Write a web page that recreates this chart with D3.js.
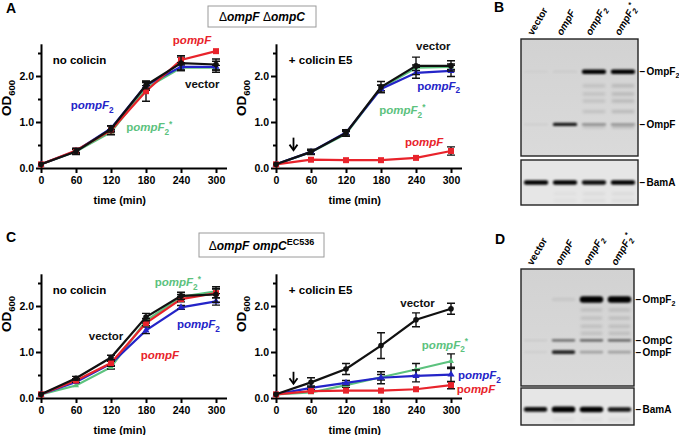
<!DOCTYPE html>
<html><head><meta charset="utf-8">
<script src="https://cdn.jsdelivr.net/npm/d3@7"></script>
<style>
body{margin:0;background:#fff}
svg{display:block}
text{font-family:"Liberation Sans",Arial,Helvetica,sans-serif}
</style>
</head><body>
<svg id="fig" width="679" height="435"></svg>
<script>
// ---------------- DATA ----------------
const times = [0, 60, 120, 180, 240, 300];
const xTicks = [0, 60, 120, 180, 240, 300];
const yTicks = [0, 1, 2];
const yMinorTicks = [0.5, 1.5, 2.5];
const seriesKeys = ["pompF2*", "pompF2", "pompF", "vector"];

// Panel A, ΔompF ΔompC, no colicin
const A_noCol_vector  = [0.08, 0.36, 0.85, 1.80, 2.28, 2.25];
const A_noCol_pompF   = [0.08, 0.38, 0.82, 1.67, 2.35, 2.54];
const A_noCol_pompF2  = [0.08, 0.37, 0.86, 1.80, 2.20, 2.20];
const A_noCol_pompF2s = [0.08, 0.36, 0.78, 1.74, 2.18, 2.18];
const A_noCol_vector_err  = [0.02, 0.07, 0.07, 0.08, 0.16, 0.12];
const A_noCol_pompF_err   = [0.02, 0.04, 0.10, 0.22, 0.06, 0.03];
const A_noCol_pompF2_err  = [0.02, 0.04, 0.06, 0.06, 0.07, 0.12];
const A_noCol_pompF2s_err = [0.02, 0.04, 0.05, 0.05, 0.06, 0.05];

// Panel A, + colicin E5
const A_col_vector  = [0.08, 0.35, 0.76, 1.76, 2.22, 2.22];
const A_col_pompF   = [0.08, 0.18, 0.17, 0.17, 0.22, 0.37];
const A_col_pompF2  = [0.08, 0.35, 0.77, 1.72, 2.07, 2.11];
const A_col_pompF2s = [0.08, 0.34, 0.74, 1.74, 2.18, 2.20];
const A_col_vector_err  = [0.02, 0.06, 0.07, 0.12, 0.19, 0.11];
const A_col_pompF_err   = [0.02, 0.03, 0.02, 0.02, 0.03, 0.09];
const A_col_pompF2_err  = [0.02, 0.04, 0.05, 0.08, 0.12, 0.12];
const A_col_pompF2s_err = [0.02, 0.04, 0.05, 0.06, 0.06, 0.06];

// Panel C, ΔompF ompC^EC536, no colicin
const C_noCol_vector  = [0.08, 0.43, 0.88, 1.76, 2.22, 2.25];
const C_noCol_pompF   = [0.08, 0.38, 0.76, 1.63, 2.15, 2.28];
const C_noCol_pompF2  = [0.08, 0.35, 0.75, 1.47, 1.97, 2.10];
const C_noCol_pompF2s = [0.08, 0.27, 0.67, 1.68, 2.20, 2.32];
const C_noCol_vector_err  = [0.02, 0.04, 0.05, 0.08, 0.08, 0.17];
const C_noCol_pompF_err   = [0.02, 0.04, 0.07, 0.06, 0.06, 0.10];
const C_noCol_pompF2_err  = [0.02, 0.03, 0.05, 0.07, 0.04, 0.08];
const C_noCol_pompF2s_err = [0.02, 0.03, 0.04, 0.05, 0.05, 0.05];

// Panel C, + colicin E5
const C_col_vector  = [0.08, 0.34, 0.63, 1.14, 1.70, 1.94];
const C_col_pompF   = [0.08, 0.15, 0.16, 0.16, 0.19, 0.28];
const C_col_pompF2  = [0.08, 0.22, 0.33, 0.44, 0.48, 0.51];
const C_col_pompF2s = [0.08, 0.12, 0.28, 0.45, 0.62, 0.80];
const C_col_vector_err  = [0.02, 0.10, 0.12, 0.28, 0.15, 0.12];
const C_col_pompF_err   = [0.02, 0.03, 0.03, 0.03, 0.03, 0.08];
const C_col_pompF2_err  = [0.02, 0.04, 0.05, 0.13, 0.13, 0.16];
const C_col_pompF2s_err = [0.02, 0.03, 0.05, 0.06, 0.13, 0.16];

// Western blots
const laneNames = ["vector", "ompF", "ompF2", "ompF2*"];
const blotB_OmpF2 = [0.02, 0.04, 1.0, 1.0];
const blotB_OmpF  = [0.04, 0.9, 0.35, 0.3];
const blotB_ladder = [0.0, 0.0, 0.18, 0.25];
const blotB_BamA  = [1.0, 1.0, 0.95, 1.0];
const blotD_OmpF2 = [0.0, 0.05, 1.0, 1.0];
const blotD_OmpC  = [0.05, 0.55, 0.6, 0.6];
const blotD_OmpF  = [0.03, 0.85, 0.25, 0.25];
const blotD_ladder = [0.0, 0.0, 0.2, 0.22];
const blotD_BamA  = [0.95, 1.15, 1.1, 0.9];

// ---------------- DRAWING ----------------
const svg = d3.select("#fig");
svg.append("rect").attr("width", 679).attr("height", 435).attr("fill", "#fff");
const FONT = '"Liberation Sans",Arial,Helvetica,sans-serif';
const colors = {"vector": "#111111", "pompF": "#e8232b", "pompF2": "#2424c8", "pompF2*": "#5cc27e"};

const defs = svg.append("defs");
defs.append("filter").attr("id", "blur").attr("x", "-20%").attr("y", "-100%").attr("width", "140%").attr("height", "300%")
  .append("feGaussianBlur").attr("stdDeviation", 0.9);
defs.append("filter").attr("id", "blur2").attr("x", "-20%").attr("y", "-100%").attr("width", "140%").attr("height", "300%")
  .append("feGaussianBlur").attr("stdDeviation", 1.6);
const gr = defs.append("linearGradient").attr("id", "blotbg").attr("x1", 0).attr("y1", 0).attr("x2", 0).attr("y2", 1);
gr.append("stop").attr("offset", "0%").attr("stop-color", "#d2d2d2");
gr.append("stop").attr("offset", "100%").attr("stop-color", "#dadada");

function richLabel(g, x, y, parts, color, size) {
  const t = g.append("text").attr("x", x).attr("y", y).attr("fill", color)
    .attr("font-size", size).attr("font-weight", "bold").attr("font-family", FONT);
  parts.forEach(p => {
    const ts = t.append("tspan").text(p[0]);
    if (p[1] === "i") ts.attr("font-style", "italic");
    if (p[1] === "sub") ts.attr("font-size", size * 0.72).attr("dy", size * 0.3);
    if (p[1] === "supafter") ts.attr("font-size", size * 0.72).attr("dy", -size * 0.7);
  });
  return t;
}
const labelParts = {
  "vector": [["vector", "n"]],
  "pompF": [["p", "n"], ["ompF", "i"]],
  "pompF2": [["p", "n"], ["ompF", "i"], ["2", "sub"]],
  "pompF2*": [["p", "n"], ["ompF", "i"], ["2", "sub"], ["*", "supafter"]]
};

function lineChart(cfg) {
  const x = d3.scaleLinear().domain([0, 318]).range([cfg.x0, cfg.x0 + 35 * 318 / 60]);
  const y = d3.scaleLinear().domain([0, 2.7]).range([cfg.base, cfg.base - 46 * 2.7]);
  const g = svg.append("g");

  g.append("g").attr("transform", `translate(0,${cfg.base})`)
    .call(d3.axisBottom(x).tickValues(xTicks).tickSize(5).tickSizeOuter(0).tickPadding(4).tickFormat(d3.format("d")));
  g.append("g").attr("transform", `translate(${cfg.x0},0)`)
    .call(d3.axisLeft(y).tickValues(yTicks).tickSize(5).tickSizeOuter(0).tickPadding(2).tickFormat(d3.format(".1f")));
  g.append("g").attr("transform", `translate(${cfg.x0},0)`)
    .call(d3.axisLeft(y).tickValues(yMinorTicks).tickSize(3).tickSizeOuter(0).tickFormat(""))
    .call(s => s.select(".domain").remove());
  g.selectAll(".domain").attr("stroke", "#000").attr("stroke-width", 2);
  g.selectAll(".tick line").attr("stroke", "#000").attr("stroke-width", 2);
  g.selectAll(".tick text").attr("font-size", 10.5).attr("font-weight", "bold").attr("font-family", FONT).attr("fill", "#000");

  g.append("text").attr("x", x(135)).attr("y", cfg.base + 36).attr("text-anchor", "middle")
    .attr("font-size", 11).attr("font-weight", "bold").attr("font-family", FONT).text("time (min)");
  const od = g.append("text").attr("transform", `translate(${cfg.x0 - 30},${cfg.odY}) rotate(-90)`)
    .attr("text-anchor", "middle").attr("font-size", 13.5).attr("font-weight", "bold").attr("font-family", FONT);
  od.append("tspan").text("OD");
  od.append("tspan").text("600").attr("font-size", 9.5).attr("dy", 4);

  const line = d3.line().x((d, i) => x(times[i])).y(d => y(d));
  seriesKeys.forEach(k => {
    const vals = cfg.series[k], errs = cfg.errors[k], c = colors[k];
    g.append("path").attr("d", line(vals)).attr("fill", "none").attr("stroke", c).attr("stroke-width", 2.2);
    vals.forEach((v, i) => {
      const e = errs[i];
      if (e < 0.035) return;
      const cx = x(times[i]);
      g.append("path").attr("d", `M${cx},${y(v - e)}V${y(v + e)}M${cx - 4},${y(v - e)}H${cx + 4}M${cx - 4},${y(v + e)}H${cx + 4}`)
        .attr("stroke", "#111").attr("stroke-width", 1.4).attr("fill", "none");
    });
    vals.forEach((v, i) => {
      const cx = x(times[i]), cy = y(v);
      if (k === "pompF") g.append("rect").attr("x", cx - 3).attr("y", cy - 3).attr("width", 6).attr("height", 6).attr("fill", c);
      else if (k === "vector") g.append("circle").attr("cx", cx).attr("cy", cy).attr("r", 2.8).attr("fill", c);
      else g.append("path").attr("d", d3.symbol(d3.symbolTriangle, k === "pompF2" ? 22 : 16)()).attr("transform", `translate(${cx},${cy})`).attr("fill", c);
    });
  });

  g.append("text").attr("x", x(cfg.title[1])).attr("y", y(cfg.title[2])).attr("font-size", 11.5)
    .attr("font-weight", "bold").attr("font-family", FONT).text(cfg.title[0]);
  cfg.labels.forEach(l => richLabel(g, x(l[1]), y(l[2]), labelParts[l[0]], colors[l[0]], 11.5));
  if (cfg.arrow) {
    const ax0 = x(cfg.arrow[0]), y1 = y(cfg.arrow[1]), y2 = y(cfg.arrow[2]);
    g.append("path").attr("d", `M${ax0},${y1}V${y2}`).attr("stroke", "#000").attr("stroke-width", 1.8);
    g.append("path").attr("d", `M${ax0 - 4},${y2 - 5}L${ax0},${y2 + 0.5}L${ax0 + 4},${y2 - 5}`).attr("stroke", "#000").attr("stroke-width", 1.8).attr("fill", "none");
  }
}

function pack(v, p, p2, p2s) { return {"vector": v, "pompF": p, "pompF2": p2, "pompF2*": p2s}; }

lineChart({x0: 41, base: 168, odY: 98,
  series: pack(A_noCol_vector, A_noCol_pompF, A_noCol_pompF2, A_noCol_pompF2s),
  errors: pack(A_noCol_vector_err, A_noCol_pompF_err, A_noCol_pompF2_err, A_noCol_pompF2s_err),
  title: ["no colicin", 20, 2.27],
  labels: [["pompF", 226, 2.70], ["vector", 247, 1.74], ["pompF2", 51, 1.28], ["pompF2*", 146, 0.80]]});
lineChart({x0: 276, base: 168, odY: 98,
  series: pack(A_col_vector, A_col_pompF, A_col_pompF2, A_col_pompF2s),
  errors: pack(A_col_vector_err, A_col_pompF_err, A_col_pompF2_err, A_col_pompF2s_err),
  title: ["+ colicin E5", 22, 2.27],
  labels: [["vector", 240, 2.57], ["pompF2", 242, 1.70], ["pompF2*", 177, 1.17], ["pompF", 221, 0.48]],
  arrow: [30, 0.66, 0.40]});
lineChart({x0: 41, base: 398, odY: 314,
  series: pack(C_noCol_vector, C_noCol_pompF, C_noCol_pompF2, C_noCol_pompF2s),
  errors: pack(C_noCol_vector_err, C_noCol_pompF_err, C_noCol_pompF2_err, C_noCol_pompF2s_err),
  title: ["no colicin", 20, 2.27],
  labels: [["pompF2*", 195, 2.43], ["pompF2", 233, 1.52], ["vector", 82, 1.26], ["pompF", 171, 0.85]]});
lineChart({x0: 276, base: 398, odY: 314,
  series: pack(C_col_vector, C_col_pompF, C_col_pompF2, C_col_pompF2s),
  errors: pack(C_col_vector_err, C_col_pompF_err, C_col_pompF2_err, C_col_pompF2s_err),
  title: ["+ colicin E5", 22, 2.27],
  labels: [["vector", 213, 1.98], ["pompF2*", 250, 1.07], ["pompF2", 312, 0.41], ["pompF", 310, 0.11]],
  arrow: [30, 0.57, 0.32]});

[["A", 6, 13], ["B", 494, 12], ["C", 6, 242], ["D", 495, 244]].forEach(p =>
  svg.append("text").attr("x", p[1]).attr("y", p[2]).attr("font-size", 14).attr("font-weight", "bold").attr("font-family", FONT).text(p[0]));

function strainBox(x, y, w, h, parts, ty) {
  svg.append("rect").attr("x", x).attr("y", y).attr("width", w).attr("height", h).attr("fill", "#fff").attr("stroke", "#9a9a9a").attr("stroke-width", 1);
  const t = svg.append("text").attr("x", x + w / 2).attr("y", ty).attr("text-anchor", "middle").attr("font-size", 12)
    .attr("font-weight", "bold").attr("font-family", FONT);
  parts.forEach(p => {
    const ts = t.append("tspan").text(p[0]);
    if (p[1] === "i") ts.attr("font-style", "italic");
    if (p[1] === "n") ts.attr("font-weight", "normal");
    if (p[1] === "sup") ts.attr("font-size", 9).attr("dy", -5);
  });
}
strainBox(208, 6, 108, 21, [["Δ", "n"], ["ompF", "i"], [" ", "b"], ["Δ", "n"], ["ompC", "i"]], 21);
strainBox(199, 233, 125, 24, [["Δ", "n"], ["ompF ompC", "i"], ["EC536", "sup"]], 250);

function blot(cfg) {
  const g = svg.append("g");
  const lx = d3.scaleBand().domain(laneNames).range([cfg.x, cfg.x + cfg.w]).paddingInner(0.16).paddingOuter(0.1);
  const my = d3.scaleLinear().domain([0, 1]).range([cfg.y, cfg.y + cfg.h]);
  g.append("rect").attr("x", cfg.x).attr("y", cfg.y).attr("width", cfg.w).attr("height", cfg.h).attr("fill", cfg.bg);
  cfg.ladderPos.forEach(pos => {
    laneNames.forEach((ln, i) => {
      const a = cfg.ladder[i];
      if (a <= 0) return;
      g.append("rect").attr("x", lx(ln) + 1).attr("y", my(pos) - 1.5).attr("width", lx.bandwidth() - 2).attr("height", 3)
        .attr("fill", "#555").attr("opacity", a).attr("filter", "url(#blur2)");
    });
  });
  cfg.bands.forEach(b => {
    laneNames.forEach((ln, i) => {
      const a = b.vals[i];
      if (a <= 0) return;
      const th = b.th * Math.min(1.2, Math.max(0.6, a));
      g.append("rect").attr("x", lx(ln)).attr("y", my(b.pos) - th / 2).attr("width", lx.bandwidth()).attr("height", th)
        .attr("rx", th / 2).attr("fill", "#000").attr("opacity", Math.min(1, a)).attr("filter", "url(#blur)");
    });
    if (b.label) {
      const t = g.append("text").attr("x", cfg.x + cfg.w + 1.5).attr("y", my(b.pos) + 3.5).attr("font-size", 10)
        .attr("font-weight", "bold").attr("font-family", FONT);
      t.append("tspan").text("–");
      t.append("tspan").attr("dx", 1.5).text(b.label.replace("2", ""));
      if (b.label.endsWith("2")) t.append("tspan").text("2").attr("font-size", 7).attr("dy", 3);
    }
  });
  g.append("rect").attr("x", cfg.x).attr("y", cfg.y).attr("width", cfg.w).attr("height", cfg.h).attr("fill", "none")
    .attr("stroke", "#222").attr("stroke-width", 1.4);
  return lx;
}
function laneLabels(lx, yb) {
  laneNames.forEach(ln => {
    const cx = lx(ln) + lx.bandwidth() / 2;
    const t = svg.append("text").attr("transform", `translate(${cx - 3},${yb}) rotate(-60)`).attr("font-size", 10)
      .attr("font-weight", "bold").attr("font-family", FONT);
    if (ln === "vector") { t.append("tspan").text("vector"); return; }
    t.append("tspan").text("ompF").attr("font-style", "italic");
    if (ln.indexOf("2") >= 0) t.append("tspan").text("2").attr("font-size", 7.5).attr("dy", 3).attr("font-style", "italic");
    if (ln.endsWith("*")) t.append("tspan").text("*").attr("font-size", 7.5).attr("dy", -7);
  });
}

const lxB = blot({x: 521, y: 39, w: 117, h: 117, bg: "url(#blotbg)",
  bands: [{pos: 0.28, vals: blotB_OmpF2, th: 4.5, label: "OmpF2"}, {pos: 0.73, vals: blotB_OmpF, th: 3.5, label: "OmpF"}],
  ladder: blotB_ladder, ladderPos: [0.40, 0.47, 0.53, 0.62, 0.75]});
blot({x: 521, y: 160, w: 117, h: 45, bg: "#e6e6e6",
  bands: [{pos: 0.5, vals: blotB_BamA, th: 4.5, label: "BamA"}],
  ladder: [0, 0.05, 0.08, 0.08], ladderPos: [0.75, 0.9]});
laneLabels(lxB, 36);

const lxD = blot({x: 521, y: 269, w: 113, h: 117, bg: "url(#blotbg)",
  bands: [{pos: 0.26, vals: blotD_OmpF2, th: 6.5, label: "OmpF2"}, {pos: 0.61, vals: blotD_OmpC, th: 3.5, label: "OmpC"},
          {pos: 0.71, vals: blotD_OmpF, th: 4.5, label: "OmpF"}],
  ladder: blotD_ladder, ladderPos: [0.35, 0.42, 0.49, 0.55]});
blot({x: 521, y: 388, w: 113, h: 37, bg: "#e6e6e6",
  bands: [{pos: 0.58, vals: blotD_BamA, th: 5, label: "BamA"}],
  ladder: [0, 0.06, 0.06, 0.08], ladderPos: [0.85]});
laneLabels(lxD, 266);
</script>
</body></html>
